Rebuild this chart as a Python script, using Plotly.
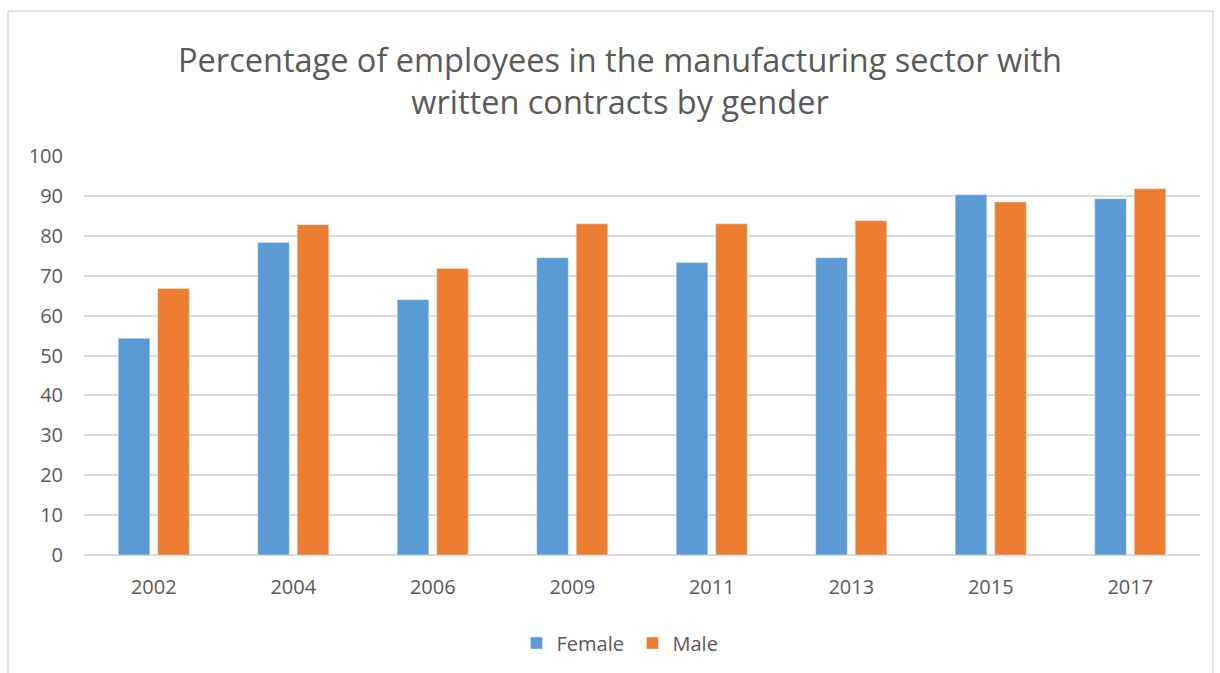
import plotly.graph_objects as go

years = ["2002", "2004", "2006", "2009", "2011", "2013", "2015", "2017"]
female = [54.3, 78.3, 64.0, 74.5, 73.3, 74.5, 90.3, 89.3]
male = [66.8, 82.8, 71.8, 83.0, 83.0, 83.8, 88.5, 91.8]

FONT = "Open Sans"
TEXT = "#595959"
GRID = "#d9d9d9"
PLOT_W = 1116.0


def px_x(px):
    return (px - 84) / PLOT_W


fig = go.Figure()
fig.add_trace(go.Bar(name="Female", x=years, y=female, marker_color="#5B9BD5",
                     legend="legend", showlegend=True))
fig.add_trace(go.Bar(name="Male", x=years, y=male, marker_color="#ED7D31",
                     legend="legend2", showlegend=True))

legend_common = dict(
    orientation="h",
    y=-0.2175,
    yanchor="middle",
    xanchor="left",
    font=dict(size=20, color=TEXT, family=FONT),
    itemwidth=30,
    bgcolor="rgba(0,0,0,0)",
)

fig.update_layout(
    width=1220,
    height=673,
    margin=dict(l=84, r=20, t=156, b=117),
    paper_bgcolor="white",
    plot_bgcolor="white",
    showlegend=True,
    barmode="group",
    bargap=0.434,
    bargroupgap=0.2,
    font=dict(family=FONT, color=TEXT, size=20),
    title=dict(
        text="Percentage of employees in the manufacturing sector with<br>written contracts by gender",
        x=620 / 1220,
        xanchor="center",
        y=1 - 72 / 673,
        yanchor="middle",
        font=dict(family=FONT, size=32.5, color=TEXT),
    ),
    legend=dict(x=px_x(516.5), **legend_common),
    legend2=dict(x=px_x(632.5), **legend_common),
    xaxis=dict(
        showgrid=False,
        showline=False,
        ticks="outside",
        ticklen=14,
        tickcolor="rgba(0,0,0,0)",
        tickfont=dict(size=20, color=TEXT),
    ),
    yaxis=dict(
        range=[0, 100],
        dtick=10,
        showgrid=True,
        gridcolor=GRID,
        gridwidth=1.5,
        zeroline=True,
        zerolinecolor=GRID,
        zerolinewidth=1.5,
        showline=False,
        ticks="outside",
        ticklen=16,
        tickcolor="rgba(0,0,0,0)",
        tickfont=dict(size=20, color=TEXT),
    ),
    shapes=[
        dict(
            type="rect",
            xref="paper",
            yref="paper",
            x0=-76 / PLOT_W,
            x1=1129 / PLOT_W,
            y0=-0.5,
            y1=(556 - 11) / 400,
            line=dict(color="#d9d9d9", width=1.5),
            fillcolor="rgba(0,0,0,0)",
            layer="below",
        )
    ],
)

fig.write_html("out.html")
